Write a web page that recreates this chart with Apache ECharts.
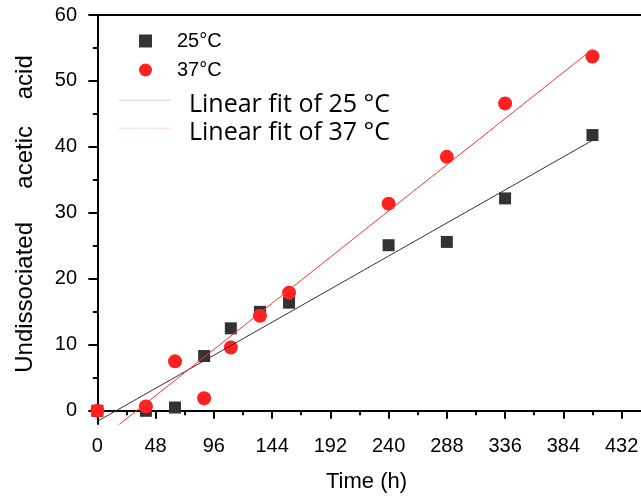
<!DOCTYPE html>
<html><head><meta charset="utf-8">
<script src="https://cdn.jsdelivr.net/npm/echarts@6/dist/echarts.min.js"></script>
<style>html,body{margin:0;padding:0;background:#fff}#c{width:641px;height:497px}</style>
</head><body><div id="c"></div>
<script>
const xTicks = [0,48,96,144,192,240,288,336,384,432];
const xMinorTicks = [24,72,120,168,216,264,312,360,408];
const yTicks = [0,10,20,30,40,50,60];
const yMinorTicks = [5,15,25,35,45,55];
const time25 = [0,40,64,88,110,134,158,240,288,336,408];
const acid25 = [0,0,0.5,8.3,12.5,15.0,16.4,25.1,25.6,32.2,41.8];
const time37 = [0,40,64,88,110,134,158,240,288,336,408];
const acid37 = [0,0.65,7.5,1.9,9.6,14.4,17.9,31.4,38.5,46.6,53.7];
const fit25Ends = [[0,-1.6],[408,41.0]];
const fit37Ends = [[0,-4.7],[408,54.8]];
const names = ['25°C','37°C','Linear fit of 25 °C','Linear fit of 37 °C'];

const X_MIN = -4.4, X_MAX = 448, Y_MIN = -2, Y_MAX = 60;
const zip = (a,b) => a.map((v,i)=>[v,b[i]]);
const base = 'Liberation Sans, Arial, sans-serif';
const lineIcon = 'path://M0,0H52V1.5H0Z M0,10H0.01V10.01H0Z';

const chart = echarts.init(document.getElementById('c'), null, {renderer:'canvas'});
chart.setOption({
  animation:false,
  backgroundColor:'#fff',
  grid:{left:92, right:0, top:15, bottom:73, containLabel:false, outerBoundsMode:'none'},
  legend:[
    {orient:'vertical', left:139, top:31, padding:0, itemWidth:13, itemHeight:13, itemGap:9,
     textStyle:{fontFamily:base, fontSize:20, color:'#000', padding:[0,0,0,20], lineHeight:20},
     data:[{name:names[0], icon:'rect'},{name:names[1], icon:'circle'}]},
    {orient:'vertical', left:119, top:92, padding:0, itemWidth:52, itemHeight:10, itemGap:3,
     textStyle:{fontFamily:'Open Sans, sans-serif', fontSize:25, color:'#000', padding:[0,0,0,13], lineHeight:24},
     data:[{name:names[2], icon:lineIcon, itemStyle:{color:'#e4e4e4'}},
           {name:names[3], icon:lineIcon, itemStyle:{color:'#ffe2e2'}}]}
  ],
  xAxis:[
    {type:'value', position:'bottom', min:X_MIN, max:X_MAX,
     name:'Time (h)', nameLocation:'middle', nameGap:47,
     nameTextStyle:{fontFamily:base, fontSize:22, lineHeight:22, color:'#000'},
     axisLine:{lineStyle:{color:'#000', width:2}},
     axisTick:{show:true, length:8, customValues:xTicks, lineStyle:{color:'#000', width:2}},
     axisLabel:{customValues:xTicks, margin:12, fontFamily:base, fontSize:20, color:'#000'},
     splitLine:{show:false}},
    {type:'value', position:'bottom', min:X_MIN, max:X_MAX,
     axisLine:{show:false},
     axisTick:{show:true, length:4.5, customValues:xMinorTicks, lineStyle:{color:'#000', width:2}},
     axisLabel:{show:false}, splitLine:{show:false}},
    {type:'value', position:'top', min:X_MIN, max:X_MAX,
     axisLine:{lineStyle:{color:'#000', width:2}},
     axisTick:{show:false}, axisLabel:{show:false}, splitLine:{show:false}}
  ],
  yAxis:[
    {type:'value', position:'left', min:Y_MIN, max:Y_MAX,
     name:'Undissociated     acetic    acid', nameLocation:'middle', nameGap:55,
     nameTextStyle:{fontFamily:base, fontSize:24, color:'#000', padding:[0,0,0,11]},
     axisLine:{lineStyle:{color:'#000', width:2}},
     axisTick:{show:true, length:9, customValues:yTicks, lineStyle:{color:'#000', width:2}},
     axisLabel:{customValues:yTicks, margin:15, fontFamily:base, fontSize:20, color:'#000'},
     splitLine:{show:false}},
    {type:'value', position:'left', min:Y_MIN, max:Y_MAX,
     axisLine:{show:false},
     axisTick:{show:true, length:4.5, customValues:yMinorTicks, lineStyle:{color:'#000', width:2}},
     axisLabel:{show:false}, splitLine:{show:false}}
  ],
  series:[
    {name:names[0], type:'scatter', xAxisIndex:0, yAxisIndex:0, symbol:'rect', symbolSize:12,
     itemStyle:{color:'#333333', opacity:1}, data:zip(time25, acid25), z:2},
    {name:names[1], type:'scatter', xAxisIndex:0, yAxisIndex:0, symbol:'circle', symbolSize:14,
     itemStyle:{color:'#ff2020', opacity:1}, data:zip(time37, acid37), z:3},
    {name:names[2], type:'line', xAxisIndex:0, yAxisIndex:0, showSymbol:false, symbol:'none', clip:true,
     lineStyle:{color:'#333333', width:1}, itemStyle:{color:'#333333'}, data:fit25Ends, z:4},
    {name:names[3], type:'line', xAxisIndex:0, yAxisIndex:0, showSymbol:false, symbol:'none', clip:true,
     lineStyle:{color:'#ff3333', width:1}, itemStyle:{color:'#ff3333'}, data:fit37Ends, z:4}
  ]
});
</script></body></html>
